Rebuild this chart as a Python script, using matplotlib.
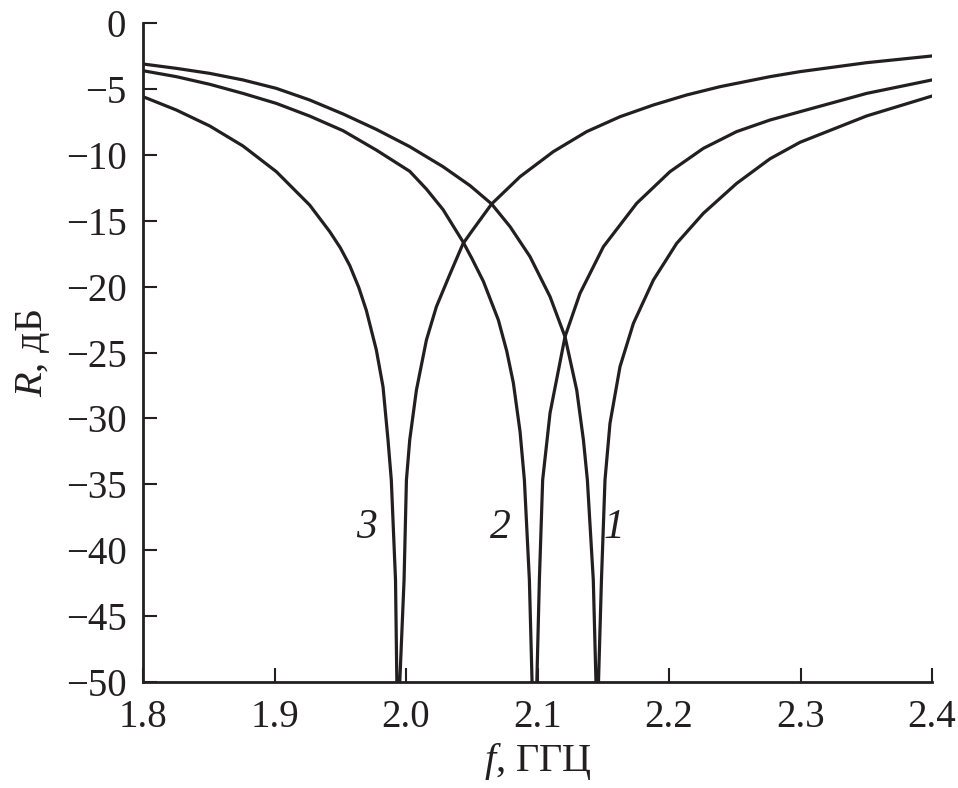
import matplotlib
matplotlib.use("Agg")
import matplotlib.pyplot as plt

plt.rcParams['font.family'] = ['Liberation Serif', 'DejaVu Serif']
plt.rcParams['mathtext.fontset'] = 'custom'
plt.rcParams['mathtext.rm'] = 'Liberation Serif'
plt.rcParams['mathtext.it'] = 'Liberation Serif:italic'

# Curve 1 (resonance near 2.145 GHz)
f1 = [1.8000, 1.8253, 1.8507, 1.8760, 1.9014, 1.9267, 1.9521, 1.9774, 2.0028,
      2.0281, 2.0487, 2.0651, 2.0791, 2.0943, 2.1095, 2.1209, 2.1298, 2.1349,
      2.1379, 2.1424, 2.1444, 2.1455, 2.1464, 2.1486, 2.1513, 2.1551, 2.1627,
      2.1729, 2.1881, 2.2058, 2.2261, 2.2514, 2.2768, 2.2996, 2.3503, 2.4000]
r1 = [-3.11, -3.44, -3.82, -4.32, -4.96, -5.84, -6.90, -8.07, -9.38,
      -10.90, -12.34, -13.73, -15.45, -17.73, -20.76, -23.80, -27.85, -31.64,
      -34.67, -42.26, -49.85, -60.0, -49.85, -42.26, -34.67, -30.37, -26.08,
      -22.79, -19.50, -16.72, -14.44, -12.17, -10.30, -9.05, -7.05, -5.54]

# Curve 2 (resonance near 2.097 GHz)
f2 = [1.8000, 1.8253, 1.8507, 1.8760, 1.9014, 1.9267, 1.9521, 1.9774, 2.0028,
      2.0155, 2.0281, 2.0433, 2.0500, 2.0588, 2.0702, 2.0766, 2.0816, 2.0867,
      2.0900, 2.0938, 2.0958, 2.0973, 2.0995, 2.1014, 2.1039, 2.1095, 2.1209,
      2.1323, 2.1501, 2.1754, 2.2007, 2.2261, 2.2514, 2.2768, 2.2996, 2.3503,
      2.4000]
r2 = [-3.62, -4.07, -4.65, -5.34, -6.10, -7.06, -8.17, -9.64, -11.25,
      -12.60, -14.15, -16.60, -17.85, -19.60, -22.53, -24.90, -27.30, -31.00,
      -34.67, -42.26, -49.85, -60.0, -49.85, -42.26, -34.67, -29.60, -23.80,
      -20.51, -16.97, -13.68, -11.28, -9.51, -8.24, -7.36, -6.73, -5.34,
      -4.32]

# Curve 3 (resonance near 1.994 GHz)
f3 = [1.8000, 1.8253, 1.8507, 1.8760, 1.9014, 1.9267, 1.9420, 1.9500, 1.9572,
      1.9640, 1.9698, 1.9774, 1.9825, 1.9863, 1.9888, 1.9920, 1.9930, 1.9940,
      1.9953, 1.9985, 2.0003, 2.0028, 2.0079, 2.0155, 2.0231, 2.0332, 2.0433,
      2.0500, 2.0651, 2.0867, 2.1120, 2.1374, 2.1627, 2.1881, 2.2134, 2.2388,
      2.2768, 2.2996, 2.3503, 2.4000]
r3 = [-5.59, -6.60, -7.81, -9.33, -11.28, -13.81, -15.83, -17.05, -18.40,
      -20.05, -21.80, -24.80, -27.60, -31.64, -34.67, -42.26, -49.85, -60.0,
      -49.85, -42.26, -34.67, -31.64, -27.85, -24.05, -21.52, -19.10, -16.75,
      -15.80, -13.73, -11.66, -9.76, -8.24, -7.11, -6.22, -5.46, -4.83,
      -4.07, -3.69, -3.01, -2.50]

curve_labels = ['1', '2', '3']
label_x = [2.1584, 2.0715, 1.970]
label_y = [-38.3, -38.3, -38.3]

xticks = [1.8, 1.9, 2.0, 2.1, 2.2, 2.3, 2.4]
xtick_labels = ['1.8', '1.9', '2.0', '2.1', '2.2', '2.3', '2.4']
yticks = [0, -5, -10, -15, -20, -25, -30, -35, -40, -45, -50]
ytick_labels = ['0'] + ['\u2212%d' % (-v) for v in yticks[1:]]

fig = plt.figure(figsize=(9.58, 7.88), dpi=100)
ax = fig.add_axes([0.1493, 0.1345, 0.8236, 0.8363])

for f, r in ((f1, r1), (f2, r2), (f3, r3)):
    ax.plot(f, r, color='#231f20', lw=2.3, solid_joinstyle='round')

for t, x, y in zip(curve_labels, label_x, label_y):
    ax.text(x, y, t, fontsize=30, style='italic', ha='center', va='center',
            color='#231f20')

ax.set_xlim(1.8, 2.4)
ax.set_ylim(-50, 0)
ax.set_xticks(xticks)
ax.set_xticklabels(xtick_labels)
ax.set_yticks(yticks)
ax.set_yticklabels(ytick_labels)

for s in ('top', 'right'):
    ax.spines[s].set_visible(False)
for s in ('left', 'bottom'):
    ax.spines[s].set_linewidth(2.0)
    ax.spines[s].set_color('#231f20')

ax.tick_params(direction='in', length=10, width=1.5, labelsize=28,
               colors='#231f20')
ax.tick_params(axis='y', pad=12)
ax.tick_params(axis='x', pad=12)

ax.set_xlabel(r'$f$, ГГЦ', fontsize=29, labelpad=4, color='#231f20')
ax.set_ylabel(r'$R$, дБ', fontsize=29, labelpad=10, color='#231f20')

fig.savefig('out.png', dpi=100)
